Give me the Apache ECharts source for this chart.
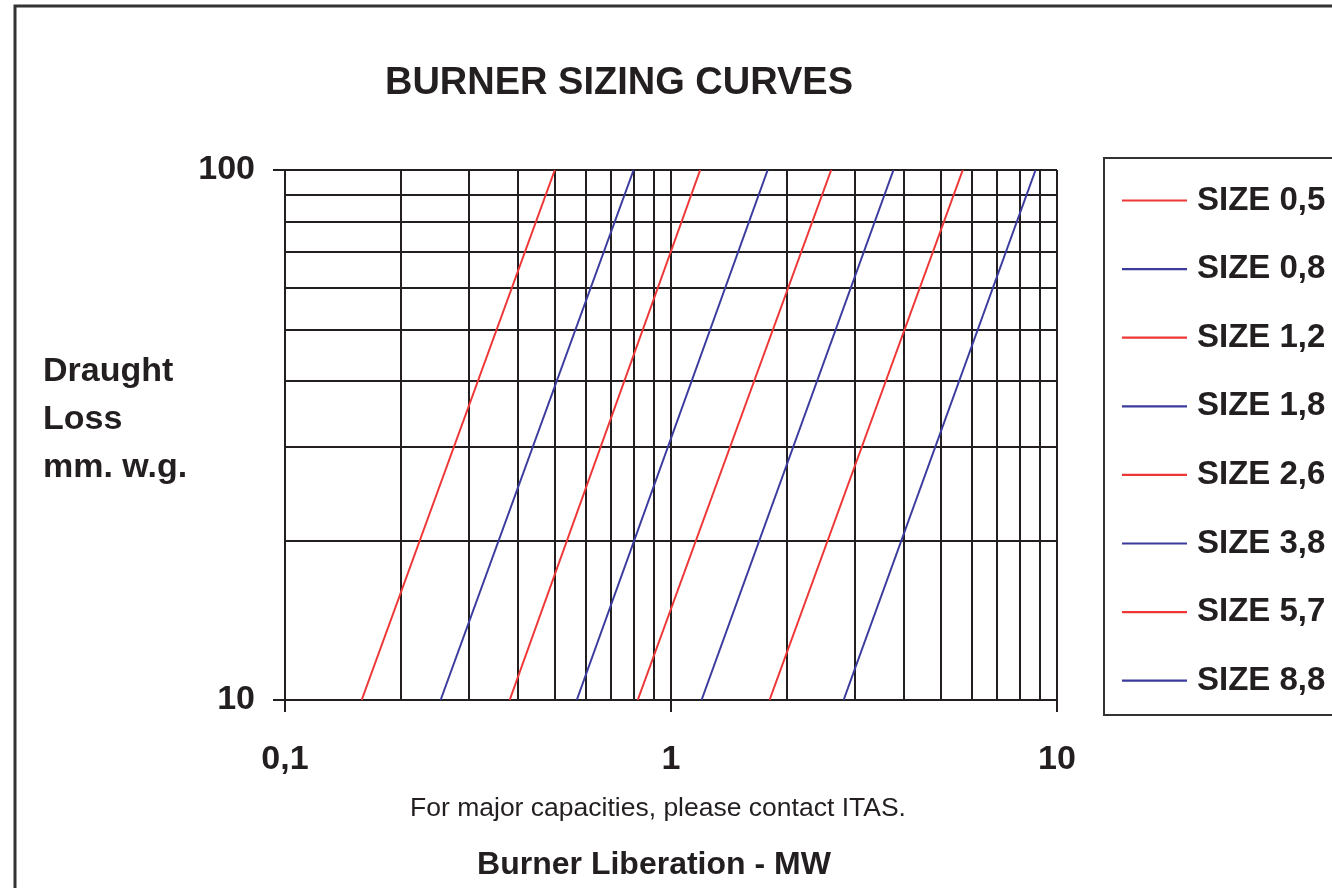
<!DOCTYPE html>
<html>
<head>
<meta charset="utf-8">
<script src="https://cdn.jsdelivr.net/npm/echarts@6/dist/echarts.min.js"></script>
<style>
html,body{margin:0;padding:0;background:#fff;}
#chart{width:1332px;height:888px;}
</style>
</head>
<body>
<div id="chart"></div>
<script>
// ---- data ----
const sizeNames = ['SIZE 0,5','SIZE 0,8','SIZE 1,2','SIZE 1,8','SIZE 2,6','SIZE 3,8','SIZE 5,7','SIZE 8,8'];
// burner liberation (MW) where each curve meets draught loss 10 mm w.g.
const flowAtLow  = [0.158, 0.253, 0.382, 0.57, 0.82, 1.2, 1.8, 2.8];
// burner liberation (MW) where each curve meets draught loss 100 mm w.g.
const flowAtHigh = [0.5, 0.8, 1.19, 1.78, 2.6, 3.77, 5.7, 8.8];
const draughtEnds = [10, 100];
const xGridValues = [0.2,0.3,0.4,0.5,0.6,0.7,0.8,0.9,2,3,4,5,6,7,8,9];
const yGridValues = [20,30,40,50,60,70,80,90];

const RED = '#ee3636';
const BLUE = '#3b3b9e';
const INK = '#231f20';
const FONT = '"Liberation Sans", Arial, Helvetica, sans-serif';

const curveSeries = sizeNames.map((name, i) => ({
  name: name,
  type: 'line',
  data: [[flowAtLow[i], draughtEnds[0]], [flowAtHigh[i], draughtEnds[1]]],
  symbol: 'none',
  showSymbol: false,
  z: 5,
  lineStyle: { color: i % 2 === 0 ? RED : BLUE, width: 2 },
  itemStyle: { color: i % 2 === 0 ? RED : BLUE }
}));

const gridSeries = {
  name: '_grid',
  type: 'line',
  data: [],
  z: 1,
  silent: true,
  markLine: {
    silent: true,
    symbol: ['none', 'none'],
    label: { show: false },
    emphasis: { disabled: true },
    lineStyle: { color: INK, width: 2, type: 'solid' },
    data: xGridValues.map(v => ({ xAxis: v })).concat(yGridValues.map(v => ({ yAxis: v })))
  }
};

const chart = echarts.init(document.getElementById('chart'), null, { renderer: 'canvas' });
chart.setOption({
  animation: false,
  backgroundColor: '#ffffff',
  textStyle: { fontFamily: FONT },
  grid: { left: 285, top: 170, right: 275, bottom: 188, containLabel: false },
  xAxis: {
    type: 'log', logBase: 10, min: 0.1, max: 10,
    axisLine: { show: true, onZero: false, lineStyle: { color: INK, width: 2 } },
    axisTick: { show: true, length: 12, lineStyle: { color: INK, width: 2 } },
    splitLine: { show: true, showMinLine: true, showMaxLine: true, lineStyle: { color: INK, width: 2 } },
    minorTick: { show: false }, minorSplitLine: { show: false },
    axisLabel: {
      show: true, margin: 43, fontSize: 34, fontWeight: 'bold', color: INK, fontFamily: FONT,
      formatter: v => String(v).replace('.', ',')
    }
  },
  yAxis: {
    type: 'log', logBase: 10, min: 10, max: 100,
    axisLine: { show: true, onZero: false, lineStyle: { color: INK, width: 2 } },
    axisTick: { show: true, length: 12, lineStyle: { color: INK, width: 2 } },
    splitLine: { show: true, showMinLine: true, showMaxLine: true, lineStyle: { color: INK, width: 2 } },
    minorTick: { show: false }, minorSplitLine: { show: false },
    axisLabel: { show: true, margin: 30, fontSize: 34, fontWeight: 'bold', color: INK, fontFamily: FONT }
  },
  legend: {
    data: sizeNames,
    orient: 'vertical',
    left: 1117, top: 179,
    itemWidth: 65, itemHeight: 14, itemGap: 35.6,
    icon: 'path://M0,6 L65,6 L65,8.2 L0,8.2 Z',
    selectedMode: false,
    textStyle: { fontSize: 33, fontWeight: 'bold', color: INK, fontFamily: FONT, padding: [0, 0, 0, 5] }
  },
  graphic: [
    { type: 'rect', silent: true, z: 0,
      shape: { x: 15, y: 6, width: 1400, height: 1000 },
      style: { fill: 'none', stroke: '#333333', lineWidth: 3 } },
    { type: 'rect', silent: true, z: 0,
      shape: { x: 1104, y: 158, width: 300, height: 557 },
      style: { fill: 'none', stroke: '#333333', lineWidth: 2 } },
    { type: 'text', silent: true, x: 619, y: 84,
      style: { text: 'BURNER SIZING CURVES', font: 'bold 38px ' + FONT, fill: INK,
        align: 'center', verticalAlign: 'middle', textAlign: 'center', textVerticalAlign: 'middle' } },
    { type: 'text', silent: true, x: 43, y: 372,
      style: { text: 'Draught\nLoss\nmm. w.g.', font: 'bold 34px ' + FONT, fill: INK, lineHeight: 48,
        align: 'left', verticalAlign: 'top', textAlign: 'left', textVerticalAlign: 'top', y: -24 } },
    { type: 'text', silent: true, x: 658, y: 809,
      style: { text: 'For major capacities, please contact ITAS.', font: '26.5px ' + FONT, fill: INK,
        align: 'center', verticalAlign: 'middle', textAlign: 'center', textVerticalAlign: 'middle' } },
    { type: 'text', silent: true, x: 654, y: 865,
      style: { text: 'Burner Liberation - MW', font: 'bold 32px ' + FONT, fill: INK,
        align: 'center', verticalAlign: 'middle', textAlign: 'center', textVerticalAlign: 'middle' } }
  ],
  series: [gridSeries].concat(curveSeries)
});
</script>
</body>
</html>
